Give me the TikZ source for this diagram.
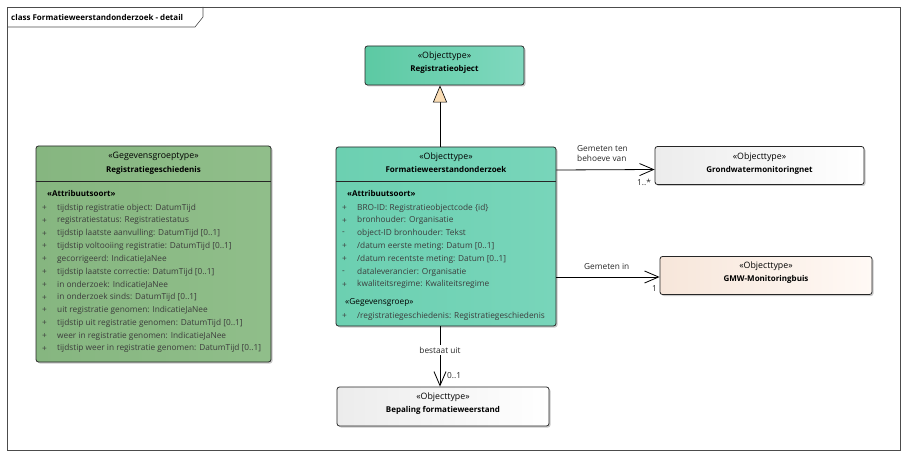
\documentclass[tikz,border=0pt]{standalone}
\usepackage{fontspec}
\setmainfont{Open Sans}
\usetikzlibrary{arrows.meta,shadows,calc}
\definecolor{tealL}{HTML}{5CC9A3}
\definecolor{tealR}{HTML}{80D9BF}
\definecolor{tealM}{HTML}{6CD0B1}
\definecolor{tealN}{HTML}{78D5BA}
\definecolor{grnL}{HTML}{86B680}
\definecolor{grnR}{HTML}{90BE8A}
\definecolor{gryL}{HTML}{ECECEC}
\definecolor{gryR}{HTML}{FFFFFF}
\definecolor{pchL}{HTML}{F7E6DA}
\definecolor{pchR}{HTML}{FFF9F5}
\definecolor{attrgray}{HTML}{3C3C3C}
\definecolor{trifill}{HTML}{FADDB5}
\newcommand{\attrow}[5]{%
  \node[sym] (#1s) at (#2,#3) {#4};
  \node[attr] (#1) at (#2+15,#3) {#5};}
\newcommand{\regf}{\fontsize{8.3}{10}\selectfont}
\newcommand{\boldf}{\fontsize{8}{10}\selectfont\bfseries}
\begin{document}
\begin{tikzpicture}[x=1pt,y=-1pt,
  font=\regf,
  box/.style={draw=black!85, rounded corners=2.5pt, line width=0.8pt, inner sep=0pt,
    drop shadow={shadow xshift=1.5pt, shadow yshift=-1.5pt, opacity=0.35, fill=black!60}},
  stereo/.style={inner sep=0pt, text=black, font=\fontsize{8.8}{10}\selectfont},
  cname/.style={inner sep=0pt, font=\boldf},
  sect/.style={inner sep=0pt, anchor=west, font=\boldf},
  sym/.style={inner sep=0pt, anchor=west, text=attrgray},
  attr/.style={inner sep=0pt, anchor=west, text=attrgray},
  lbl/.style={inner sep=0pt, text=black!85},
  conn/.style={draw=black, line width=0.8pt},
  assoc/.style={conn, -{Straight Barb[length=14pt,width=12pt,line width=0.8pt]}},
  gen/.style={conn, -{Triangle[length=17pt,width=14pt,fill=trifill,line width=0.6pt]}}
]
\useasboundingbox (0,0) rectangle (908,457);
% frame
\draw[draw=black!70, line width=0.6pt] (7,7) rectangle (900,450);
\draw[draw=black!70, line width=0.6pt] (7,27) -- (195,27) -- (203,17) -- (203,7);
\node[inner sep=0pt, anchor=west, font=\boldf] (title) at (11,17.5) {class Formatieweerstandonderzoek - detail};

% boxes
\node[box, left color=tealL, right color=tealR, minimum width=159pt, minimum height=39pt] (ro) at (444.5,65.5) {};
\node[box, left color=tealM, right color=tealN, minimum width=220pt, minimum height=179pt] (fw) at (446,236.5) {};
\node[box, left color=grnL, right color=grnR, minimum width=235pt, minimum height=216pt] (rg) at (153.5,254) {};
\node[box, left color=gryL, right color=gryR, minimum width=209pt, minimum height=38pt] (gm) at (759.5,165.5) {};
\node[box, left color=pchL, right color=pchR, minimum width=212pt, minimum height=38pt] (gmw) at (766,275.5) {};
\node[box, left color=gryL, right color=gryR, minimum width=212pt, minimum height=39pt] (bf) at (443,406.5) {};

% header separators
\draw[black!85, line width=0.8pt] (rg.west |- 0,181) -- (rg.east |- 0,181);
\draw[black!85, line width=0.8pt] (fw.west |- 0,181) -- (fw.east |- 0,181);

% Registratieobject
\node[stereo] (ro-st) at (444.5,56) {«Objecttype»};
\node[cname] (ro-n) at (444.5,69.5) {Registratieobject};

% Registratiegeschiedenis
\node[stereo] (rg-st) at (153.5,156) {«Gegevensgroeptype»};
\node[cname] (rg-n) at (153.5,170) {Registratiegeschiedenis};
\node[sect] (rg-sec) at (47,194) {«Attribuutsoort»};
\attrow{rga1}{42}{208}{+}{tijdstip registratie object: DatumTijd}
\attrow{rga2}{42}{220.8}{+}{registratiestatus: Registratiestatus}
\attrow{rga3}{42}{233.6}{+}{tijdstip laatste aanvulling: DatumTijd [0..1]}
\attrow{rga4}{42}{246.4}{+}{tijdstip voltooiing registratie: DatumTijd [0..1]}
\attrow{rga5}{42}{259.2}{+}{gecorrigeerd: IndicatieJaNee}
\attrow{rga6}{42}{272}{+}{tijdstip laatste correctie: DatumTijd [0..1]}
\attrow{rga7}{42}{284.8}{+}{in onderzoek: IndicatieJaNee}
\attrow{rga8}{42}{297.6}{+}{in onderzoek sinds: DatumTijd [0..1]}
\attrow{rga9}{42}{310.4}{+}{uit registratie genomen: IndicatieJaNee}
\attrow{rga10}{42}{323.2}{+}{tijdstip uit registratie genomen: DatumTijd [0..1]}
\attrow{rga11}{42}{336}{+}{weer in registratie genomen: IndicatieJaNee}
\attrow{rga12}{42}{348.8}{+}{tijdstip weer in registratie genomen: DatumTijd [0..1]}

% Formatieweerstandonderzoek
\node[stereo] (fw-st) at (446,157) {«Objecttype»};
\node[cname] (fw-n) at (446,170) {Formatieweerstandonderzoek};
\node[sect] (fw-sec) at (347,194) {«Attribuutsoort»};
\attrow{fwa1}{342}{208}{+}{BRO-ID: Registratieobjectcode \{id\}}
\attrow{fwa2}{342}{220.8}{+}{bronhouder: Organisatie}
\attrow{fwa3}{342}{233.6}{-}{object-ID bronhouder: Tekst}
\attrow{fwa4}{342}{246.4}{+}{/datum eerste meting: Datum [0..1]}
\attrow{fwa5}{342}{259.2}{+}{/datum recentste meting: Datum [0..1]}
\attrow{fwa6}{342}{272}{-}{dataleverancier: Organisatie}
\attrow{fwa7}{342}{284.8}{+}{kwaliteitsregime: Kwaliteitsregime}
\node[sect, font=\regf] (fw-sec2) at (345,302) {«Gegevensgroep»};
\attrow{fwa8}{342}{316}{+}{/registratiegeschiedenis: Registratiegeschiedenis}

% Grondwatermonitoringnet
\node[stereo] (gm-st) at (759.5,157) {«Objecttype»};
\node[cname] (gm-n) at (759.5,170) {Grondwatermonitoringnet};

% GMW-Monitoringbuis
\node[stereo] (gmw-st) at (766,266) {«Objecttype»};
\node[cname] (gmw-n) at (766,279.5) {GMW-Monitoringbuis};

% Bepaling formatieweerstand
\node[stereo] (bf-st) at (443,397) {«Objecttype»};
\node[cname] (bf-n) at (443,410.5) {Bepaling formatieweerstand};

% connectors
\draw[gen] ($(fw.north)+(-6,0)$) -- ($(ro.south)+(-4.5,0)$);
\draw[assoc] ($(fw.east)+(0,-66.5)$) -- ($(gm.west)+(0,4)$);
\draw[assoc] ($(fw.east)+(0,40.5)$) -- ($(gmw.west)+(0,1.5)$);
\draw[assoc] ($(fw.south)+(-6,0)$) -- ($(bf.north)+(-3,0)$);

% connector labels
\node[lbl, anchor=west, align=left] (l1) at (577,154) {Gemeten ten\\behoeve van};
\node[lbl, anchor=west] (m1) at (637,182) {1..*};
\node[lbl, anchor=west] (l2) at (584,266) {Gemeten in};
\node[lbl, anchor=west] (m2) at (652,289) {1};
\node[lbl, fill=white, inner sep=1.5pt] (l3) at (440,350) {bestaat uit};
\node[lbl, anchor=west] (m3) at (447,376) {0..1};
\end{tikzpicture}
\end{document}
